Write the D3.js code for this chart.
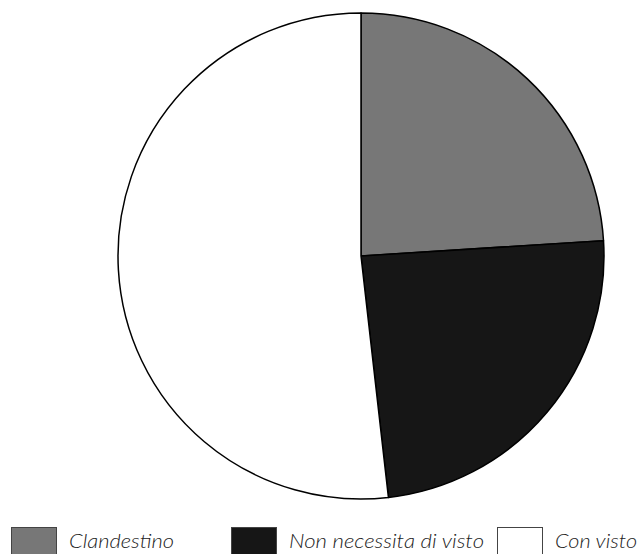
<!DOCTYPE html>
<html><head><meta charset="utf-8">
<script src="https://cdn.jsdelivr.net/npm/d3@7"></script>
<style>body{margin:0;background:#fff}svg{display:block}</style>
</head><body>
<script>
const categories = ["Clandestino", "Non necessita di visto", "Con visto"];
const values = [24.0, 24.2, 51.8];
const colors = ["#777777", "#161616", "#ffffff"];
const labelWidths = [105, 195, 82];

const W = 641, H = 554;
const svg = d3.select("body").append("svg").attr("width", W).attr("height", H);
const cx = 361, cy = 256, r = 243;

const pie = d3.pie().sort(null).value(d => d.v);
const arc = d3.arc().innerRadius(0).outerRadius(r);
const data = categories.map((c, i) => ({c, v: values[i], col: colors[i]}));

svg.append("g").attr("transform", `translate(${cx},${cy})`)
  .selectAll("path").data(pie(data)).join("path")
  .attr("d", arc).attr("fill", d => d.data.col)
  .attr("stroke", "#000").attr("stroke-width", 1.5).attr("stroke-linejoin", "round");

const legX = [11, 231, 497];
const lg = svg.append("g");
data.forEach((d, i) => {
  lg.append("rect").attr("x", legX[i] + 0.5).attr("y", 527.5).attr("width", 45).attr("height", 27)
    .attr("fill", d.col).attr("stroke", "#444").attr("stroke-width", 1);
  lg.append("text").attr("x", legX[i] + 58).attr("y", 548)
    .attr("font-family", "Lato, sans-serif").attr("font-style", "italic")
    .attr("font-weight", 300).attr("font-size", 20).attr("fill", "#222")
    .attr("textLength", labelWidths[i]).attr("lengthAdjust", "spacingAndGlyphs")
    .text(d.c);
});
</script>
</body></html>
